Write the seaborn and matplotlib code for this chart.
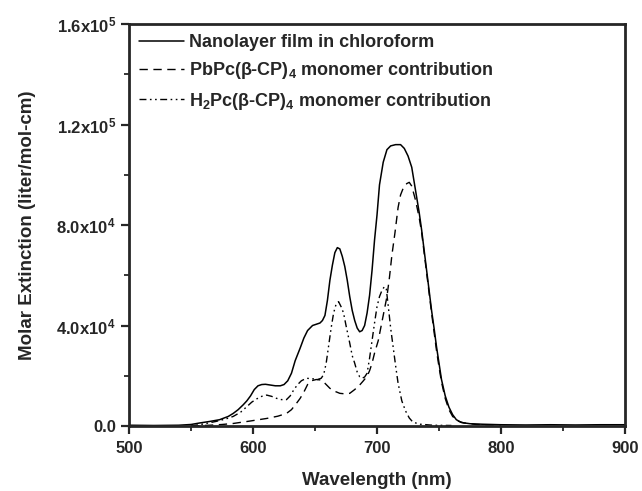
import matplotlib
matplotlib.use("Agg")
import matplotlib.pyplot as plt
import seaborn as sns

# solid: nanolayer film in chloroform
film_nm = [500, 520, 540, 550, 557, 565, 573, 580, 584, 588, 592, 595, 598, 601, 604,
           607, 610, 614, 618, 622, 625, 628, 631, 634, 638, 641, 644, 648, 651, 654,
           656, 658, 660, 662, 664, 666, 668, 670, 672, 674, 676, 678, 680, 682, 684,
           686, 688, 690, 692, 694, 696, 698, 700, 702, 705, 708, 711, 715, 719, 722,
           725, 728, 730, 732, 734, 736, 738, 740, 742, 744, 746, 748, 750, 752, 755,
           758, 761, 764, 768, 775, 785, 800, 820, 840, 860, 880, 900]
film_eps = [300, 200, 300, 600, 1200, 1800, 2500, 3800, 5000, 6500, 8400, 10000, 12000,
            14500, 16000, 16500, 16600, 16300, 16000, 16000, 16500, 18000, 21000, 26000,
            31000, 35000, 38000, 40000, 40500, 41000, 42000, 44000, 50000, 58000, 64000,
            69000, 71000, 70500, 67500, 63500, 58000, 51500, 46000, 42000, 39000, 37500,
            38000, 40000, 45000, 52000, 62000, 74000, 84000, 96000, 105000, 110000,
            111500, 112000, 112000, 110500, 107500, 103000, 97000, 91000, 85000, 78000,
            70000, 62000, 54000, 46000, 39000, 31500, 25000, 18500, 12000, 7500, 4500,
            2500, 1400, 900, 700, 500, 400, 500, 400, 500, 500]

# dashed: PbPc(b-CP)4 monomer contribution
pb_nm = [550, 565, 575, 584, 598, 611, 620, 627, 631, 635, 638, 641, 644, 647, 651,
         655, 658, 662, 666, 670, 674, 678, 682, 686, 689, 692, 694, 696, 698, 701,
         703, 705, 708, 710, 712, 714.5, 717, 719, 721, 724, 726, 728, 731, 734, 736,
         738, 740, 742, 744, 746, 748, 750, 752, 755, 758, 761, 765, 770, 780, 800]
pb_eps = [0, 300, 600, 1000, 2000, 3000, 3900, 5000, 6500, 9000, 11000, 13500, 16500,
          18000, 18500, 18300, 17000, 15000, 13800, 13000, 12800, 13000, 14500, 16300,
          18000, 19800, 22000, 25000, 29000, 34000, 39000, 44000, 51500, 59000, 68000,
          77000, 87000, 92000, 94500, 96500, 97000, 95500, 90000, 83000, 77000, 69000,
          61000, 53000, 45000, 37500, 30000, 23500, 17500, 11000, 6500, 3800, 2000,
          1200, 600, 300]

# dash-dot-dot: H2Pc(b-CP)4 monomer contribution
h2_nm = [550, 560, 570, 578, 584, 590, 595, 599, 603, 607, 611, 615, 619, 623, 627,
         630, 633, 636, 639, 643, 648, 652, 655, 657, 659, 661, 663, 665, 667, 669,
         671, 673, 675, 678, 680, 682, 684, 686, 688, 690, 692, 694, 696, 698, 700,
         702, 704, 706, 707.5, 709, 711, 713, 715, 717, 720, 723, 726, 729, 735, 745, 760]
h2_eps = [0, 800, 1800, 2800, 3800, 5500, 7700, 9500, 10800, 11800, 12300, 11800, 11000,
          10500, 10500, 12000, 14500, 16500, 18000, 19000, 18800, 18500, 19000, 20500,
          25000, 32000, 39000, 45000, 48500, 49500, 47500, 45000, 40000, 33000, 28000,
          25000, 21500, 19600, 19000, 19500, 21000, 27000, 34000, 41000, 47500, 51500,
          54000, 55500, 54500, 48000, 39000, 31500, 24000, 17000, 10000, 6000, 3200,
          1500, 700, 300, 200]

labels = ["Nanolayer film in chloroform",
          r"PbPc($\beta$-CP)$_4$ monomer contribution",
          r"H$_2$Pc($\beta$-CP)$_4$ monomer contribution"]

sns.set_style("ticks")
plt.rcParams["font.family"] = ["Liberation Sans", "DejaVu Sans"]
plt.rcParams["font.weight"] = "bold"
plt.rcParams["mathtext.fontset"] = "custom"
plt.rcParams["mathtext.rm"] = "Liberation Sans:bold"
plt.rcParams["mathtext.it"] = "Liberation Sans:bold"
plt.rcParams["mathtext.bf"] = "Liberation Sans:bold"
plt.rcParams["mathtext.sf"] = "Liberation Sans:bold"

fig, ax = plt.subplots(figsize=(6.42, 4.91), dpi=100)
fig.subplots_adjust(left=0.201, right=0.9735, bottom=0.1324, top=0.951)

sns.lineplot(x=film_nm, y=film_eps, ax=ax, color="black", lw=1.1, label=labels[0])
sns.lineplot(x=pb_nm, y=pb_eps, ax=ax, color="black", lw=1.0,
             linestyle=(0, (6, 4)), label=labels[1])
sns.lineplot(x=h2_nm, y=h2_eps, ax=ax, color="black", lw=1.0,
             linestyle=(0, (5, 2.5, 1.2, 2.5, 1.2, 2.5)), label=labels[2])

ax.set_xlim(500, 900)
ax.set_ylim(0, 1.6e5)
ax.set_xticks([500, 600, 700, 800, 900])
ax.set_xticks([550, 650, 750, 850], minor=True)
ax.set_yticks([0, 4e4, 8e4, 1.2e5, 1.6e5])
ax.set_yticklabels(["0.0", r"4.0x10$^4$", r"8.0x10$^4$", r"1.2x10$^5$", r"1.6x10$^5$"])
ax.set_yticks([2e4, 6e4, 1e5, 1.4e5], minor=True)
ax.tick_params(which="major", direction="out", length=6, width=1.6, labelsize=12)
ax.tick_params(axis="x", which="major", pad=5)
ax.tick_params(which="minor", direction="out", length=3.5, width=1.3)
for sp in ax.spines.values():
    sp.set_linewidth(2.0)
    sp.set_visible(True)

ax.set_xlabel("Wavelength (nm)", fontsize=13.5, fontweight="bold", labelpad=11)
ax.set_ylabel("Molar Extinction (liter/mol-cm)", fontsize=13.5, fontweight="bold",
              labelpad=15)

ax.legend(loc="upper left", frameon=False, fontsize=13, handlelength=2.5,
          handletextpad=0.25, labelspacing=0.52, borderaxespad=0.15,
          bbox_to_anchor=(0.0, 1.0))

fig.savefig("out.png", dpi=100)
